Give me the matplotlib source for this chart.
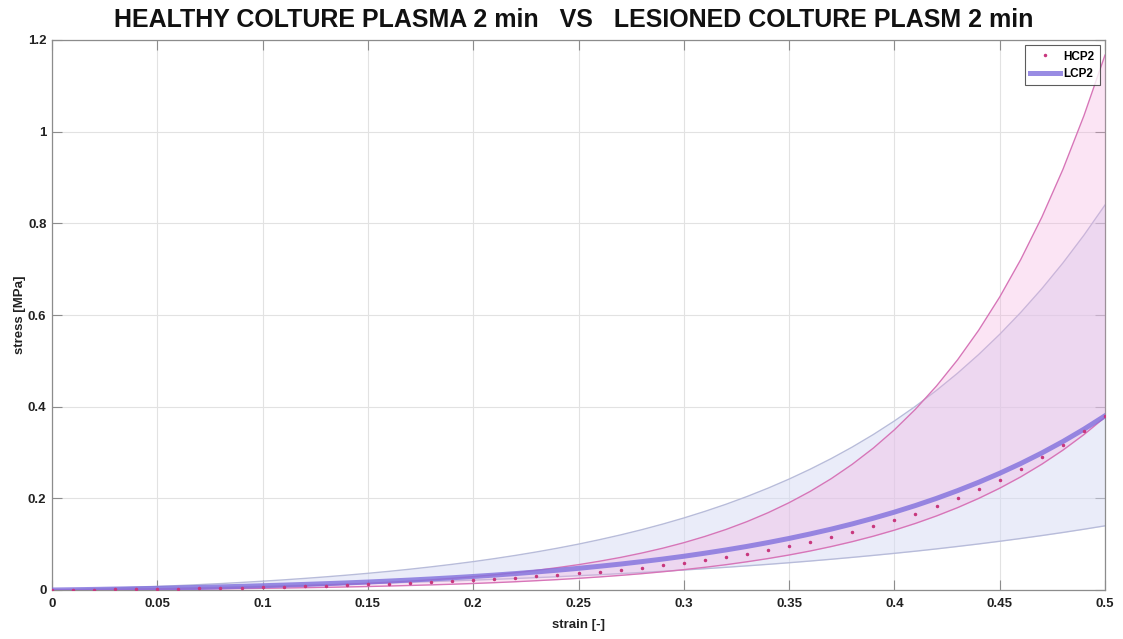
import matplotlib
matplotlib.use("Agg")
import matplotlib.pyplot as plt

plt.rcParams['font.family'] = ['Liberation Sans', 'DejaVu Sans']

# strain grid (step 0.01)
strain = [round(0.01 * i, 2) for i in range(51)]

# healthy culture, plasma 2 min: mean and band limits [MPa]
hcp2_mean = [0, 0.0004, 0.0008, 0.0013, 0.0019, 0.0024, 0.0031, 0.0037, 0.0045, 0.0053,
             0.0062, 0.0072, 0.0083, 0.0095, 0.0108, 0.0122, 0.0138, 0.0154, 0.0173, 0.0193,
             0.0216, 0.0240, 0.0267, 0.0296, 0.0328, 0.0362, 0.0401, 0.0442, 0.0488, 0.0538,
             0.0593, 0.0652, 0.0718, 0.0790, 0.0868, 0.0954, 0.1048, 0.1150, 0.1263, 0.1386,
             0.1520, 0.1667, 0.1828, 0.2004, 0.2197, 0.2408, 0.2639, 0.2892, 0.3168, 0.3470,
             0.3801]
hcp2_upper = [0, 0.0004, 0.0008, 0.0013, 0.0018, 0.0024, 0.0031, 0.0038, 0.0047, 0.0056,
              0.0067, 0.0080, 0.0093, 0.0109, 0.0127, 0.0146, 0.0169, 0.0194, 0.0222, 0.0255,
              0.0291, 0.0331, 0.0377, 0.0429, 0.0488, 0.0553, 0.0628, 0.0711, 0.0806, 0.0912,
              0.1032, 0.1168, 0.1320, 0.1492, 0.1686, 0.1905, 0.2151, 0.2429, 0.2743, 0.3096,
              0.3495, 0.3944, 0.4451, 0.5022, 0.5666, 0.6392, 0.7210, 0.8133, 0.9174, 1.0348,
              1.1670]
hcp2_lower = [0, 0.0002, 0.0005, 0.0007, 0.0010, 0.0014, 0.0017, 0.0022, 0.0026, 0.0031,
              0.0037, 0.0043, 0.0050, 0.0058, 0.0067, 0.0076, 0.0087, 0.0099, 0.0112, 0.0126,
              0.0142, 0.0160, 0.0180, 0.0203, 0.0227, 0.0255, 0.0285, 0.0319, 0.0356, 0.0398,
              0.0444, 0.0495, 0.0552, 0.0616, 0.0686, 0.0764, 0.0851, 0.0948, 0.1055, 0.1174,
              0.1306, 0.1453, 0.1616, 0.1797, 0.1998, 0.2221, 0.2469, 0.2745, 0.3051, 0.3391,
              0.3769]

# lesioned culture, plasma 2 min: mean and band limits [MPa]
lcp2_mean = [0, 0.0006, 0.0013, 0.0021, 0.0029, 0.0037, 0.0047, 0.0057, 0.0068, 0.0080,
             0.0093, 0.0107, 0.0122, 0.0138, 0.0155, 0.0174, 0.0195, 0.0217, 0.0241, 0.0267,
             0.0295, 0.0325, 0.0358, 0.0394, 0.0432, 0.0473, 0.0518, 0.0566, 0.0619, 0.0675,
             0.0736, 0.0803, 0.0874, 0.0951, 0.1035, 0.1125, 0.1223, 0.1328, 0.1442, 0.1566,
             0.1699, 0.1843, 0.1999, 0.2168, 0.2350, 0.2547, 0.2760, 0.2990, 0.3239, 0.3509,
             0.3800]
lcp2_upper = [0, 0.0013, 0.0027, 0.0043, 0.0059, 0.0077, 0.0097, 0.0118, 0.0140, 0.0165,
              0.0192, 0.0221, 0.0253, 0.0287, 0.0324, 0.0364, 0.0407, 0.0454, 0.0505, 0.0560,
              0.0619, 0.0684, 0.0754, 0.0830, 0.0912, 0.1001, 0.1098, 0.1202, 0.1315, 0.1438,
              0.1571, 0.1715, 0.1870, 0.2039, 0.2222, 0.2420, 0.2635, 0.2867, 0.3119, 0.3392,
              0.3688, 0.4008, 0.4355, 0.4730, 0.5137, 0.5578, 0.6056, 0.6573, 0.7134, 0.7741,
              0.8399]
lcp2_lower = [0, 0.0006, 0.0013, 0.0020, 0.0028, 0.0036, 0.0044, 0.0052, 0.0062, 0.0071,
              0.0081, 0.0092, 0.0103, 0.0115, 0.0127, 0.0140, 0.0153, 0.0168, 0.0183, 0.0199,
              0.0215, 0.0233, 0.0251, 0.0270, 0.0290, 0.0312, 0.0334, 0.0358, 0.0383, 0.0409,
              0.0436, 0.0465, 0.0495, 0.0527, 0.0560, 0.0595, 0.0632, 0.0671, 0.0712, 0.0755,
              0.0800, 0.0847, 0.0897, 0.0950, 0.1005, 0.1063, 0.1124, 0.1188, 0.1255, 0.1326,
              0.1400]

x_ticks = [0, 0.05, 0.1, 0.15, 0.2, 0.25, 0.3, 0.35, 0.4, 0.45, 0.5]
x_tick_labels = ['0', '0.05', '0.1', '0.15', '0.2', '0.25', '0.3', '0.35', '0.4', '0.45', '0.5']
y_ticks = [0, 0.2, 0.4, 0.6, 0.8, 1.0, 1.2]
y_tick_labels = ['0', '0.2', '0.4', '0.6', '0.8', '1', '1.2']

fig = plt.figure(figsize=(11.23, 6.39), dpi=100)
ax = fig.add_axes([52 / 1123, 1 - 590 / 639, (1105 - 52) / 1123, (590 - 40) / 639])

# lesioned band
ax.fill_between(strain, lcp2_lower, lcp2_upper, color='#D6DBF5', alpha=0.5, linewidth=0, zorder=1)
ax.plot(strain, lcp2_upper, color='#B8BCDA', lw=1.0, zorder=2)
ax.plot(strain, lcp2_lower, color='#B8BCDA', lw=1.0, zorder=2)

# healthy band
ax.fill_between(strain, hcp2_lower, hcp2_upper, color='#F5A8DC', alpha=0.3, linewidth=0, zorder=3)
ax.plot(strain, hcp2_upper, color='#D775B8', lw=1.0, zorder=4)
ax.plot(strain, hcp2_lower, color='#D775B8', lw=1.0, zorder=4)

# means
ax.plot(strain, lcp2_mean, color='#8070DD', lw=3.6, alpha=0.8, zorder=5, label='LCP2')
ax.plot(strain, hcp2_mean, linestyle='none', marker='.', markersize=3.0, color='#C8377E',
        zorder=6, label='HCP2')

ax.set_xlim(0, 0.5)
ax.set_ylim(0, 1.2)
ax.set_xticks(x_ticks)
ax.set_xticklabels(x_tick_labels)
ax.set_yticks(y_ticks)
ax.set_yticklabels(y_tick_labels)

ax.grid(True, color='#E2E2E2', lw=0.8, zorder=0)
ax.set_axisbelow(True)
for s in ax.spines.values():
    s.set_color('#8C8C8C')
    s.set_linewidth(0.9)
ax.tick_params(direction='in', length=7, width=0.8, color='#8C8C8C',
               top=True, right=True, labelsize=9.5, labelcolor='#222222')
ax.tick_params(axis='x', pad=6)
ax.tick_params(axis='y', pad=4)
for lab in ax.get_xticklabels() + ax.get_yticklabels():
    lab.set_fontweight('bold')

ax.set_xlabel('strain [-]', fontsize=9.5, fontweight='bold', color='#222222', labelpad=6)
ax.set_ylabel('stress [MPa]', fontsize=9.5, fontweight='bold', color='#222222', labelpad=1)

fig.text(0.511, 1 - 20 / 639, 'HEALTHY COLTURE PLASMA 2 min   VS   LESIONED COLTURE PLASM 2 min',
         ha='center', va='center', fontsize=18, fontweight='bold', color='#111111')

handles, labels = ax.get_legend_handles_labels()
leg = ax.legend(handles[::-1], labels[::-1], loc='upper right',
                prop={'weight': 'bold', 'size': 8.5}, frameon=True, fancybox=False,
                edgecolor='#333333', handlelength=2.5, borderpad=0.45, labelspacing=0.45,
                handletextpad=0.3, borderaxespad=0.45, markerscale=1.0)
leg.get_frame().set_linewidth(0.8)

fig.savefig('out.png', dpi=100, facecolor='white')
